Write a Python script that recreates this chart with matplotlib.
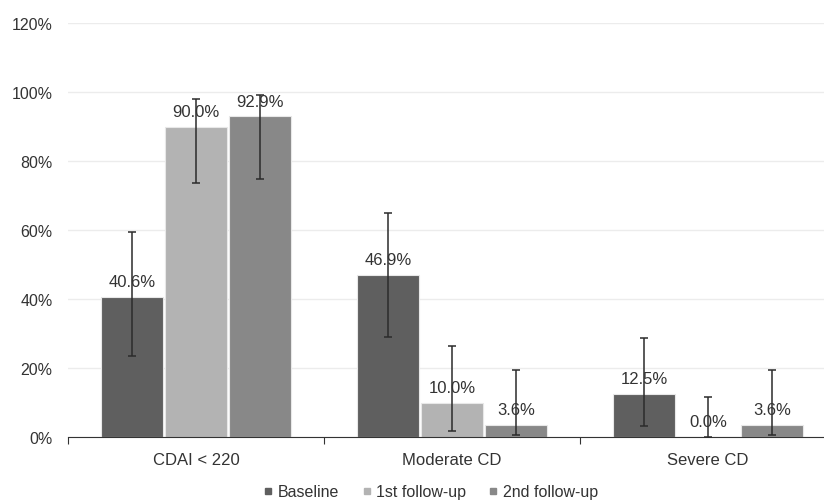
import matplotlib.pyplot as plt
import numpy as np

plt.rcParams['font.family'] = ['Liberation Sans', 'DejaVu Sans']

categories = ['CDAI < 220', 'Moderate CD', 'Severe CD']
series = ['Baseline', '1st follow-up', '2nd follow-up']
colors = ['#5f5f5f', '#b3b3b3', '#888888']

values = [
    [40.6, 46.9, 12.5],
    [90.0, 10.0, 0.0],
    [92.9, 3.6, 3.6],
]
err_low = [
    [23.5, 29.0, 3.2],
    [73.5, 1.8, 0.0],
    [74.8, 0.5, 0.5],
]
err_high = [
    [59.5, 65.0, 28.8],
    [98.0, 26.5, 11.5],
    [99.2, 19.5, 19.5],
]

fig = plt.figure(figsize=(8.24, 5.02), dpi=100)
ax = fig.add_axes([68 / 824, 64 / 502, 768 / 824, 414 / 502])

x = np.arange(len(categories))
width = 0.242
offsets = [-0.25, 0.0, 0.25]

for i, name in enumerate(series):
    v = np.array(values[i]) / 100
    lo = v - np.array(err_low[i]) / 100
    hi = np.array(err_high[i]) / 100 - v
    xs = x + offsets[i]
    ax.bar(xs, v, width, color=colors[i], edgecolor='#e8e8e8', linewidth=0.8,
           label=name, zorder=2)
    ax.errorbar(xs, v, yerr=[lo, hi], fmt='none', ecolor='#2b2b2b',
                elinewidth=1.1, capsize=3, capthick=1.1, zorder=3)
    for xi, vi in zip(xs, values[i]):
        ax.annotate(f'{vi:.1f}%', xy=(xi, vi / 100), xytext=(0, 11),
                    textcoords='offset points', ha='center', va='center',
                    fontsize=12, color='#333333', zorder=4)

ax.set_xlim(-0.5, 2.5)
ax.set_ylim(0, 1.2)
ax.set_yticks(np.arange(0, 1.21, 0.2))
ax.set_yticklabels([f'{int(round(t * 100))}%' for t in np.arange(0, 1.21, 0.2)])
ax.yaxis.grid(True, color='#ececec', linewidth=1, zorder=0)
ax.tick_params(axis='y', length=0, pad=11, labelsize=11.5, labelcolor='#333333')

ax.set_xticks([-0.5, 0.5, 1.5, 2.5])
ax.set_xticklabels([])
ax.set_xticks(x, minor=True)
ax.set_xticklabels(categories, minor=True)
ax.tick_params(axis='x', which='major', length=5, color='#333333')
ax.tick_params(axis='x', which='minor', length=0, pad=11, labelsize=12,
               labelcolor='#333333')

for s in ['top', 'right', 'left']:
    ax.spines[s].set_visible(False)
ax.spines['bottom'].set_color('#333333')

handles = [plt.Line2D([], [], marker='s', linestyle='none', markersize=4,
                      color=c) for c in colors]
fig.legend(handles, series, loc='center', bbox_to_anchor=(430 / 824, 1 - 493 / 502),
           ncol=3, frameon=False, fontsize=11.5, handletextpad=0.2,
           handlelength=0.8, columnspacing=1.3, labelcolor='#333333')

fig.savefig('out.png', dpi=100)
